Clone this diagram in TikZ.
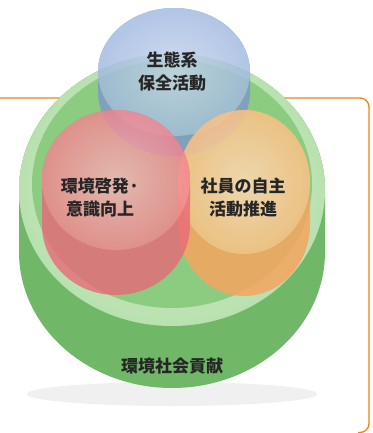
\documentclass[tikz,border=0pt]{standalone}
\usepackage{fontspec}
\newfontfamily\jp{Noto Sans CJK JP}
\definecolor{lineor}{RGB}{240,130,20}
\definecolor{grside}{RGB}{112,184,104}
\definecolor{grtop}{RGB}{140,204,128}
\definecolor{grrim}{RGB}{185,225,175}
\definecolor{blside}{RGB}{125,152,200}
\definecolor{bltop}{RGB}{160,184,224}
\definecolor{rdside}{RGB}{232,105,122}
\definecolor{rdtop}{RGB}{244,130,142}
\definecolor{orside}{RGB}{245,165,95}
\definecolor{ortop}{RGB}{252,192,132}
\tikzset{lab/.style={font=\jp\bfseries\fontsize{17}{23}\selectfont,text=black!85,align=center}}
% x, y, rx, ry, h, side, top
\newcommand\cyl[7]{%
\fill[#6] (#1-#3,#2) -- (#1-#3,#2+#5) arc[start angle=180,end angle=0,x radius=#3,y radius=#4] -- (#1+#3,#2) arc[start angle=0,end angle=-180,x radius=#3,y radius=#4] -- cycle;
\shade[inner color=#7!60!white,outer color=#7] (#1,#2) ellipse[x radius=#3,y radius=#4];}
\begin{document}
\begin{tikzpicture}[x=1pt,y=-1pt]
\useasboundingbox (0,0) rectangle (372,433);
\draw[lineor,line width=1.3pt,rounded corners=9pt] (0,98) -- (369,98) -- (369,432.5) -- (358,432.5);
\fill[black!6] (172,394) ellipse[x radius=145,y radius=12];
\cyl{172}{190}{153}{136}{62}{grside}{grrim}
\fill[grtop] (172,184) ellipse[x radius=140,y radius=124];
\begin{scope}[transparency group,opacity=0.82]
\cyl{174}{72}{76}{64}{20}{blside}{bltop}
\end{scope}
\begin{scope}[transparency group,opacity=0.85]
\cyl{244}{182}{66}{72}{42}{orside}{ortop}
\end{scope}
\begin{scope}[transparency group,opacity=0.8]
\cyl{116}{180}{74}{70}{45}{rdside}{rdtop}
\end{scope}
\node[lab] (eco) at (172,72) {生態系\\保全活動};
\node[lab] (edu) at (100,198) {環境啓発·\\意識向上};
\node[lab] (emp) at (243,198) {社員の自主\\活動推進};
\node[lab] (soc) at (172,366) {環境社会貢献};
\end{tikzpicture}
\end{document}
